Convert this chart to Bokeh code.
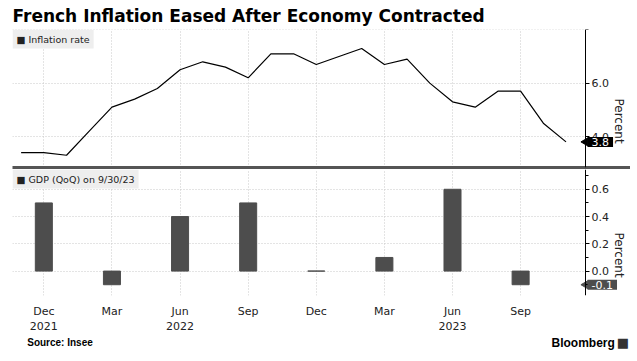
import math
from bokeh.plotting import figure
from bokeh.layouts import column
from bokeh.models import Range1d, FixedTicker, PrintfTickFormatter, Label
from bokeh.embed import file_html
from bokeh.resources import INLINE

# ---- data ----
months = ["2021-11", "2021-12", "2022-01", "2022-02", "2022-03", "2022-04", "2022-05",
          "2022-06", "2022-07", "2022-08", "2022-09", "2022-10", "2022-11", "2022-12",
          "2023-01", "2023-02", "2023-03", "2023-04", "2023-05", "2023-06", "2023-07",
          "2023-08", "2023-09", "2023-10", "2023-11"]
inflation = [3.4, 3.4, 3.3, 4.2, 5.1, 5.4, 5.8, 6.5, 6.8, 6.6, 6.2, 7.1, 7.1,
             6.7, 7.0, 7.3, 6.7, 6.9, 6.0, 5.3, 5.1, 5.7, 5.7, 4.5, 3.8]
gdp_quarters = ["2021-12", "2022-03", "2022-06", "2022-09", "2022-12", "2023-03", "2023-06", "2023-09"]
gdp_values = [0.5, -0.1, 0.4, 0.5, 0.0, 0.1, 0.6, -0.1]
tick_months = ["2021-12", "2022-03", "2022-06", "2022-09", "2022-12", "2023-03", "2023-06", "2023-09"]
tick_labels = ["Dec\n2021", "Mar", "Jun\n2022", "Sep", "Dec", "Mar", "Jun\n2023", "Sep"]
infl_ticks = [4, 6]
infl_unlabelled = [8]
gdp_ticks = [0.0, 0.2, 0.4, 0.6]
gdp_minor = [-0.1, 0.1, 0.3, 0.5, 0.7]

x_infl = [months.index(m) for m in months]
x_gdp = [months.index(q) for q in gdp_quarters]
x_ticks = [months.index(m) for m in tick_months]

FONT = "DejaVu Sans"
GRID = "#c8c8c8"
BAR = "#4d4d4d"
SEP = "#555555"
W = 630

AXIS_X = 24.86                      # where the value axis stands
xr = Range1d(-0.38, 26.84)
yr1 = Range1d(2.84, 8.01)
yr2 = Range1d(-0.179, 0.745)


def pad(x, y):
    try:
        Label(padding=dict(x=x, y=y))
        return dict(x=x, y=y)
    except Exception:
        return max(x, y)


def style_right_axis(ax):
    ax.fixed_location = AXIS_X
    ax.axis_line_color = "black"
    ax.major_tick_out = 4
    ax.major_tick_in = 0
    ax.minor_tick_out = 3
    ax.minor_tick_in = 0
    ax.major_tick_line_color = "black"
    ax.minor_tick_line_color = "black"
    ax.major_label_text_font = FONT
    ax.major_label_text_font_size = "11px"
    ax.major_label_text_color = "#222222"
    ax.major_label_standoff = 2
    ax.axis_label = "Percent"
    ax.axis_label_text_font = FONT
    ax.axis_label_text_font_size = "12px"
    ax.axis_label_text_font_style = "normal"
    ax.axis_label_text_color = "#222222"
    ax.axis_label_standoff = 7
    if "axis_label_orientation" in ax.properties():
        ax.axis_label_orientation = -math.pi / 2
    ax.formatter = PrintfTickFormatter(format="%.1f")


def style_grids(p):
    for g in (p.xgrid, p.ygrid):
        g.grid_line_color = GRID
        g.grid_line_dash = "1 2"
    for g in p.ygrid:
        if "cross_bounds" in g.properties():
            g.cross_bounds = (xr.start, AXIS_X)
    for g in p.xgrid:
        if "bounds" in g.properties():
            g.bounds = (xr.start, AXIS_X)


def add_tag(p, y, text, color):
    p.scatter(x=[AXIS_X], y=[y], marker="triangle", angle=math.pi / 2, size=8,
              fill_color=color, line_color=color)
    p.add_layout(Label(x=AXIS_X, y=y, anchor="center_left", x_offset=2, text=text,
                       text_font=FONT, text_font_size="11px", text_color="white",
                       background_fill_color=color, padding=pad(4, 1)))


def legend_box(x, y, text):
    return Label(x=x, y=y, anchor="top_left", text=text, text_font=FONT,
                 text_font_size="9.5px", text_color="#222222",
                 background_fill_color="#eeeeee", padding=pad(4, 4))


# ---- top panel: inflation ----
p1 = figure(width=W, height=169, x_range=xr, y_range=yr1, y_axis_location="right",
            output_backend="svg", toolbar_location=None,
            min_border_left=12, min_border_right=0, min_border_top=0, min_border_bottom=2)
p1.title.text = "French Inflation Eased After Economy Contracted"
p1.title.text_font = FONT
p1.title.text_font_size = "17px"
p1.title.text_font_style = "bold"
p1.title.text_color = "black"
p1.title.standoff = 7
p1.outline_line_color = None

p1.line(x_infl, inflation, line_color="black", line_width=1.2)

# bottom axis of the top panel = thick separator between panels (no labels)
p1.xaxis.ticker = FixedTicker(ticks=[])
p1.xaxis.axis_line_width = 3
p1.xaxis.axis_line_color = SEP
p1.xaxis.major_tick_line_color = None
p1.xaxis.minor_tick_line_color = None
p1.xaxis.major_label_standoff = 0
p1.xaxis.major_tick_out = 0
p1.xgrid.axis = None
p1.xgrid.ticker = FixedTicker(ticks=x_ticks)

p1.yaxis.ticker = FixedTicker(ticks=infl_ticks, minor_ticks=infl_unlabelled)
style_right_axis(p1.yaxis[0])
style_grids(p1)
p1.ygrid.minor_grid_line_color = GRID
p1.ygrid.minor_grid_line_dash = "1 2"

p1.add_layout(legend_box(xr.start, yr1.end, "\u25a0 Inflation rate"))
add_tag(p1, inflation[-1], "%.1f" % inflation[-1], "black")

# ---- bottom panel: GDP ----
p2 = figure(width=W, height=167, x_range=xr, y_range=yr2, y_axis_location="right",
            output_backend="svg", toolbar_location=None,
            min_border_left=12, min_border_right=0, min_border_top=0, min_border_bottom=29)
p2.outline_line_color = None

p2.vbar(x=x_gdp, top=gdp_values, bottom=0, width=0.75, fill_color=BAR, line_color=BAR)

p2.xaxis.ticker = FixedTicker(ticks=x_ticks)
p2.xaxis.major_label_overrides = dict(zip(x_ticks, tick_labels))
p2.xaxis.axis_line_color = None
p2.xaxis.major_tick_line_color = None
p2.xaxis.minor_tick_line_color = None
p2.xaxis.major_label_text_font = FONT
p2.xaxis.major_label_text_font_size = "11px"
p2.xaxis.major_label_text_color = "#222222"
p2.xaxis.major_label_standoff = 3

p2.yaxis.ticker = FixedTicker(ticks=gdp_ticks, minor_ticks=gdp_minor)
style_right_axis(p2.yaxis[0])
style_grids(p2)

p2.add_layout(legend_box(xr.start, yr2.end, "\u25a0 GDP (QoQ) on 9/30/23"))
add_tag(p2, gdp_values[-1], "%.1f" % gdp_values[-1], BAR)

# ---- footer ----
FH = 17
p3 = figure(width=W, height=FH, x_range=Range1d(0, W), y_range=Range1d(0, FH),
            output_backend="svg", toolbar_location=None,
            x_axis_location=None, y_axis_location=None, min_border=0)
p3.outline_line_color = None
p3.grid.visible = False
p3.add_layout(Label(x=15, y=FH - 6, anchor="center_left", text="Source: Insee",
                    text_font="Liberation Sans", text_font_size="10px",
                    text_font_style="bold", text_color="black"))
p3.add_layout(Label(x=614, y=FH - 6, anchor="center_right", text="Bloomberg",
                    text_font="Liberation Sans", text_font_size="12px",
                    text_font_style="bold", text_color="black"))
p3.add_layout(Label(x=616, y=FH - 6, anchor="center_left", text="\u25a0",
                    text_font=FONT, text_font_size="13px", text_color="#333333"))

layout = column(p1, p2, p3, spacing=0)
open("out.html", "w").write(file_html(layout, INLINE))
